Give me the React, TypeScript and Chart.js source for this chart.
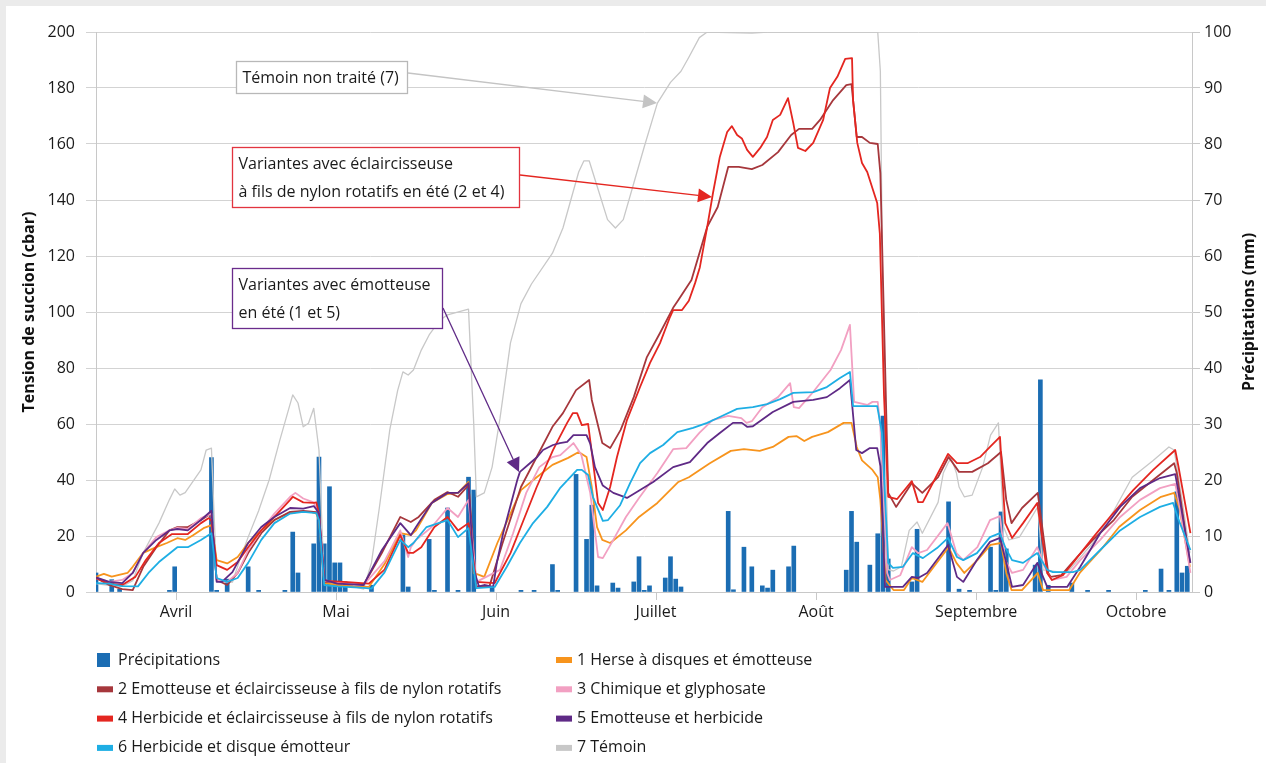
import React, { useEffect, useRef } from 'react';
import { Chart, registerables } from 'chart.js';

Chart.register(...registerables);

const FONT = "'Open Sans', 'DejaVu Sans', sans-serif";

// Month bands of the category axis (each month drawn as an equal band of 30.5 days)
const monthLabels = ['Avril', 'Mai', 'Juin', 'Juillet', 'Août', 'Septembre', 'Octobre'];
const monthBand = 30.5;
const lastDay = 208.9;

const leftTicks = { min: 0, max: 200, step: 20 };
const rightTicks = { min: 0, max: 100, step: 10 };

// [day since 1 April, mm]
const precipitation: [number, number][] = [
  [0, 3.4], [3, 2.2], [4.5, 0.5], [14, 0.3], [15, 4.5], [22, 24], [23, 0.3], [25, 2.3], [29, 4.5], [31, 0.3],
  [36, 0.3], [37.5, 10.7], [38.5, 3.4], [41.5, 8.6], [42.5, 24.1], [43.5, 8.6], [44.5, 18.8], [45.5, 5.2],
  [46.5, 5.2], [47.5, 1.8], [52.5, 1.2], [58.5, 10.2], [59.5, 0.9], [63.5, 9.4], [64.5, 0.3], [67, 15],
  [69, 0.3], [71, 20.5], [72, 18.2], [75.5, 0.9], [81, 0.3], [83.5, 0.3], [87, 4.9], [88, 0.3], [91.5, 21],
  [93.5, 9.4], [94.5, 15.5], [95.5, 1.1], [98.5, 1.6], [99.5, 0.7], [102.5, 1.8], [103.5, 6.3], [104.5, 0.3],
  [105.5, 1.1], [108.5, 2.5], [109.5, 6.3], [110.5, 2.3], [111.5, 0.9], [120.5, 14.4], [121.5, 0.4],
  [123.5, 8], [125, 4.5], [127, 1.1], [128, 0.7], [129, 3.9], [132, 4.5], [133, 8.2], [143, 3.9], [144, 14.4],
  [145, 8.9], [147.5, 4.8], [149, 10.4], [150, 31.4], [151, 5.9], [155.5, 1.8], [156.5, 11.2], [162.5, 16.1],
  [164.5, 0.5], [166.5, 0.3], [170.5, 8], [171.5, 0.3], [172.5, 14.3], [173.5, 7.7], [179, 4.8], [180, 37.9],
  [181.5, 1.2], [186, 1.6], [189, 0.3], [193, 0.3], [200, 0.3], [203, 4.1], [204.5, 0.3], [206, 17.9],
  [207, 3.4], [208, 4.6],
];

// [day since 1 April, cbar]
const serie1: [number, number][] = [
  [0, 5.5], [1.5, 6.5], [3, 5.5], [6, 6.8], [7, 9], [9, 14], [11.5, 16], [13.5, 17.5], [15.5, 19.2], [17, 18.6],
  [18.5, 20.3], [20.5, 22.8], [22, 23.9], [23, 11.4], [25, 10.2], [27, 12.5], [29, 17.5], [31.5, 22], [34, 25.7],
  [36.5, 28], [38.5, 28.6], [41, 28.6], [42, 28], [42.5, 25.7], [43.5, 3.2], [46, 2.5], [49, 2], [52, 1.8],
  [55, 10], [58, 21], [60, 20.3], [61, 22], [64, 31.8], [67, 35], [69, 35.4], [71, 39.3], [72, 6.8], [74, 5.4],
  [76.5, 17.5], [79, 28], [81, 36.4], [84, 41], [87, 45.4], [90, 47.9], [92, 50], [93.5, 48.2], [94.5, 37.5],
  [95.5, 23.2], [96.5, 18.6], [98, 17.5], [101, 22], [103.5, 26.8], [107, 31.8], [111, 39.3], [113, 41],
  [117, 46], [121, 50.4], [123.5, 51], [126.5, 50.4], [129, 51.8], [132, 55.4], [133.5, 55.7], [135, 53.9],
  [136.5, 55.4], [139.5, 57.1], [142.5, 60.4], [144, 60.4], [145, 51.8], [146, 47], [148, 43.6], [149, 41],
  [149.5, 32.9], [150.5, 4.3], [152, 0.7], [154, 0.7], [155.5, 5], [157.5, 3.6], [162.5, 16], [164, 10.4],
  [165.5, 6.8], [168, 11.4], [170.5, 16.8], [172.5, 17.5], [173.5, 6.8], [174.5, 0.7], [176.5, 0.7],
  [179.5, 6.8], [180.5, 0.7], [185.5, 0.7], [187.5, 6.8], [191.5, 15], [195, 23.2], [199, 29.3], [203, 34],
  [205.5, 35.4], [206.5, 30], [208.5, 9],
];

const serie2: [number, number][] = [
  [0, 5], [2.5, 2.5], [5, 1], [7, 0.7], [9, 9], [11.5, 16], [14, 22], [15.5, 23.2], [17.5, 23.2], [20, 25.7],
  [21.5, 27.5], [22, 27], [23, 4.3], [25, 2.5], [27, 6.8], [29, 13.9], [31.5, 21], [34, 25.7], [37, 28.6],
  [39.5, 29], [42, 28.5], [42.5, 26.8], [43.5, 3.6], [46, 3.5], [50, 3], [51, 2.5], [54.5, 14], [58, 26.8],
  [60, 25], [61.5, 26.8], [64.5, 32.9], [67, 35.7], [69, 34], [71, 38.2], [72.5, 2], [75, 2.1], [77.5, 17.5],
  [81, 37.5], [84, 48.2], [87, 59], [89, 63.9], [91.5, 72.1], [94, 75.7], [94.5, 68.6], [96.5, 53.2],
  [98, 51.4], [100, 57.9], [102.5, 69.6], [105, 83.9], [107.5, 92.5], [110, 101.5], [111, 104.3],
  [113.5, 111.4], [116.5, 130.4], [118.5, 137.5], [120.5, 151.8], [122.5, 151.8], [125, 151], [127, 152.5],
  [130, 157.1], [132.5, 163.2], [134, 165.4], [136.5, 165.4], [138, 168.6], [140.5, 175.7], [143, 181],
  [144, 181.4], [145, 162.5], [146, 162.5], [147.5, 160.4], [149, 160], [149.5, 149.6], [151, 35.4],
  [152.5, 30.4], [155.5, 38.9], [157.5, 35.4], [160.5, 41], [162.5, 48.2], [164.5, 42.9], [167, 42.9],
  [170, 46], [172.5, 50], [173.5, 32.9], [174.5, 24.6], [176.5, 30], [179.5, 35.4], [181.5, 6.8], [182, 5.4],
  [184, 6], [187, 12.5], [190, 18.6], [194, 25.7], [197.5, 34], [201.5, 40], [205.5, 46], [206, 42.5],
  [208.5, 10.4],
];

const serie3: [number, number][] = [
  [0, 5], [2.5, 3.6], [5, 4.3], [7, 6.8], [9, 14], [11.5, 19.6], [14, 22], [15.5, 22.9], [17.5, 22.5],
  [20, 26.4], [22, 28], [23, 4.3], [25, 3.6], [27, 6.8], [29, 15], [31.5, 22], [34, 28], [37, 34], [38, 35.4],
  [39.5, 33.4], [41.5, 32], [42.5, 28], [43.5, 4], [46, 3.5], [51, 2.5], [55, 11], [58, 22], [59.5, 12.5],
  [60, 16], [61, 18.6], [64, 23.2], [67, 30], [69, 26.8], [71, 32.9], [72.5, 3.6], [77, 7.9], [79.5, 21],
  [82, 35.4], [84.5, 44.6], [87, 48.2], [88.5, 48.9], [91, 53.2], [92.5, 49], [94.2, 35.4], [95.7, 12.5],
  [96.6, 12.1], [98.6, 18.6], [101, 26.8], [103.5, 33.6], [107, 42.5], [110, 51], [112.5, 51.4], [115, 56.8],
  [117.5, 61.4], [120.5, 62.9], [123, 62.1], [124, 60.4], [125, 61], [127, 66], [130, 69.6], [132.3, 74.6],
  [133, 66], [134, 65.7], [136.5, 71], [140, 79.3], [142, 86.4], [143.7, 95.4], [144.5, 67.9], [147, 66.8],
  [148, 67.9], [149, 67.9], [149.5, 59], [150.8, 6.8], [151.3, 4.3], [153.3, 6], [155.5, 16], [156.7, 13.9],
  [158.4, 15], [162.3, 24.6], [164, 13.9], [165.3, 11.4], [168, 16], [170.4, 25.7], [172.3, 27.1],
  [173.3, 11.4], [174.6, 6.8], [176.7, 7.9], [179.4, 16], [181.3, 6.8], [182.2, 4.3], [185, 5.4],
  [187.6, 11.4], [191.4, 18.6], [195.2, 26.8], [199, 32.9], [202.8, 37.1], [205.7, 38.6], [206.3, 33],
  [208.6, 6.8],
];

const serie4: [number, number][] = [
  [0, 5], [2.5, 3], [5, 2.5], [7.5, 5.4], [9.5, 11.4], [12, 17.5], [14.5, 20.7], [17.5, 20.7], [20, 24.6],
  [21.5, 26.4], [22, 25.5], [23, 9.6], [25, 7.9], [27, 10.7], [29, 16], [31.5, 22], [34, 26.8], [37, 32.9],
  [37.5, 34], [39.5, 32], [41.5, 31.8], [42, 32], [42.5, 28], [43.5, 4.3], [44, 4], [48, 3.5], [52, 3],
  [55, 8], [58, 20.3], [59.5, 14], [60.5, 14], [62, 16], [64.5, 23.2], [67, 26.8], [69, 22], [71, 24.6],
  [72.5, 3.6], [76, 3.2], [79, 13.9], [81.5, 25.7], [84, 37.5], [87.1, 50.7], [88.4, 55.4], [89.8, 60.4],
  [90.9, 63.9], [91.7, 63.9], [92.6, 59.6], [93.8, 60], [94.7, 47], [95.7, 31.8], [96.6, 29.3], [98, 37.5],
  [99.3, 48.2], [101.2, 61.4], [103.7, 73.2], [105.6, 81.8], [107.5, 88.9], [109.4, 98.2], [110, 100.7],
  [111.7, 100.7], [113, 104], [114.2, 110.4], [115.1, 116], [116.5, 130.4], [117.6, 142.5], [118.9, 155.4],
  [120.3, 164.3], [121.2, 166.4], [122.2, 163.2], [123.1, 162], [124.1, 157.9], [125.2, 155.4],
  [126.6, 158.6], [127.9, 162.5], [129, 168.6], [130.4, 170.4], [131.9, 176.4], [132.9, 167.5],
  [133.8, 158.6], [135.2, 157.5], [136.7, 160.4], [138.6, 168.6], [139.9, 180], [141.3, 184], [142.8, 190.4],
  [144.1, 190.7], [144.3, 175.7], [145.1, 160.4], [146, 153.2], [147, 150], [148.1, 143.6], [148.9, 138.9],
  [149.4, 128], [150.2, 70], [151, 34], [152.7, 33.2], [155.5, 39.6], [156.7, 32.1], [157.6, 32.1],
  [162.4, 49.3], [164.1, 46], [166.1, 46], [168.5, 48.2], [170.4, 51.8], [172.3, 55.4], [173.3, 24.6],
  [174.6, 19.3], [176.7, 24.6], [179.4, 31.8], [181.3, 6.8], [182.2, 4.3], [184.3, 6], [186.2, 10.4],
  [190.1, 19.6], [193.9, 28.2], [197.7, 36.4], [201.5, 43.6], [205.7, 50.7], [206.3, 45], [208.6, 21],
];

const serie5: [number, number][] = [
  [0, 5.2], [2.5, 3.6], [5, 3.2], [7, 6.8], [9, 14], [11.5, 18.6], [14, 22], [15.5, 22.5], [17.5, 22],
  [20, 25.7], [22, 29], [23, 3.6], [24, 3.6], [26, 7.1], [29, 17.5], [31.5, 23.2], [34, 26.8], [37, 30],
  [39.5, 29.8], [41.5, 30.7], [42, 29.5], [42.5, 28], [43.5, 4.3], [46, 3], [51, 2.5], [54.5, 15], [58, 24.6],
  [60, 20.3], [61, 23.2], [64, 31.8], [67, 35.4], [69, 35.4], [71, 38.9], [72, 8], [73, 2], [74, 2.5],
  [75.7, 1.8], [76.4, 10.4], [77.6, 21], [80.3, 40], [80.8, 42.9], [82.7, 46], [84.1, 48.2], [85.2, 50.7],
  [87.1, 52.5], [88.4, 53.2], [89.8, 53.6], [91, 56], [93.5, 56], [94.2, 53], [95.1, 44.6], [96.6, 38],
  [98.6, 35.4], [101.2, 33.6], [103.7, 36.4], [106.2, 39.3], [110, 44.6], [113.2, 46.4], [116.5, 53.2],
  [118.9, 56.8], [121.4, 60.4], [123.1, 60.4], [124.1, 59], [125.2, 59.2], [129, 64.3], [132.9, 67.9],
  [136.7, 68.6], [139.3, 69.6], [141.8, 72.8], [143.7, 75.7], [144.9, 50.7], [146, 49.6], [147.5, 51.4],
  [148.9, 51.4], [149.5, 45], [150.4, 1.8], [153.8, 1.8], [155.5, 5.4], [156.7, 5], [158.4, 6.8],
  [162.4, 16.8], [164.1, 5.4], [165.3, 3.6], [167.9, 11.4], [170.4, 17.9], [172.3, 19.3], [173.7, 9],
  [174.6, 1.8], [176.7, 2.5], [179.4, 10.4], [181.3, 1.8], [185.1, 1.8], [187.6, 9], [191.4, 21],
  [195.2, 30.4], [199, 37.1], [202.8, 40.7], [205.7, 42.1], [206.3, 36], [208.6, 10.4],
];

const serie6: [number, number][] = [
  [0, 3.2], [2.5, 3], [5, 2.1], [8, 2], [10, 6.8], [12, 10.7], [15.5, 16], [17.5, 16], [20, 18.6], [22, 21],
  [23, 5], [25, 3.6], [27, 5], [29, 10.4], [31.5, 18.6], [34, 24.6], [37, 28], [39.5, 28.6], [42, 28.2],
  [42.5, 25.7], [43.5, 2.5], [46, 2], [51, 1.5], [52.5, 1.2], [55, 7], [58, 18.6], [59.5, 16], [60.5, 17.5],
  [63, 23.2], [67, 25.7], [69, 19.6], [71, 22.8], [72.5, 1.4], [76, 1.8], [78.3, 9], [80.8, 17.5],
  [83.3, 24.6], [86, 30.4], [88.4, 37], [91.7, 43.6], [92.6, 43.6], [93.8, 41.8], [94.7, 34], [96.6, 25.4],
  [97.6, 25.7], [99.9, 31], [101.8, 38.9], [103.7, 46], [105.6, 49.6], [108.1, 52.5], [110.8, 57.1],
  [113.8, 58.6], [116.5, 60.4], [118.9, 62.5], [122.2, 65.4], [125.2, 66], [127.9, 67.1], [130.4, 68.9],
  [132.9, 71.1], [136.7, 71.4], [139.3, 73.2], [141.8, 76.4], [143.7, 78.6], [144.3, 66.4], [148.9, 66.4],
  [149.8, 56.8], [151, 10.4], [151.9, 8.6], [153.8, 9], [155.7, 13.9], [157.6, 12.1], [160.3, 15.7],
  [162.4, 19.3], [164.1, 12.5], [165.3, 11.4], [167.9, 13.9], [170.4, 19.6], [172.3, 21], [173.3, 16],
  [174.6, 11.4], [176.7, 10.4], [179.4, 13.9], [181.3, 7.9], [182.4, 7.1], [186.2, 7.1], [187.6, 7.9],
  [191.4, 15], [195.2, 22], [199, 26.8], [202.8, 30.4], [205.3, 31.8], [206.3, 26], [208.6, 15],
];

const serie7: [number, number][] = [
  [0, 3], [2, 2.5], [5, 2], [7, 4], [9, 14], [12, 24.6], [14, 33], [15, 36.8], [16, 34.6], [17, 35.5],
  [20, 43.6], [21, 50.7], [22, 51.4], [23, 5], [24, 3.5], [26, 3.5], [27.5, 12], [29, 19.6], [31, 29], [33, 40],
  [35, 54], [37.5, 70.4], [38.5, 67.5], [39.5, 59], [40.5, 60.3], [41.5, 65.6], [42.5, 50.7], [43.5, 3.5],
  [46, 2.5], [49, 2], [51, 1], [52.5, 10.4], [54, 30], [56, 58], [57.5, 72], [58.5, 78.6], [59.5, 77.5],
  [60.5, 79.3], [62, 86.4], [63.5, 91.8], [65.5, 97], [67, 99], [71, 101], [72, 60], [72.5, 34], [74, 35.4],
  [75.5, 44.6], [77, 62], [79, 89], [81, 103], [83, 110], [87, 121], [89, 130], [92, 150], [93, 154], [94, 154],
  [95.5, 145], [97.5, 133], [99, 130], [100.5, 133], [102.5, 146], [104.5, 159], [107, 174.6], [109.5, 182],
  [111.5, 186], [113, 191], [115, 198], [116.5, 200], [125, 199.6], [128, 200], [149, 200], [149.5, 186],
  [150, 97], [151, 8], [152, 7.5], [153.5, 9], [155, 22], [156.5, 25], [157.5, 21], [160.5, 32], [161.5, 42.5],
  [162.5, 46.4], [163, 47.9], [164, 42.5], [164.5, 37.5], [165.5, 34], [167, 34.6], [169, 44.6], [170.5, 56],
  [172, 60.4], [173, 23.2], [174, 18.6], [176, 19.6], [178, 25.7], [179.5, 30.4], [180.5, 7.9], [185, 6.8],
  [190, 17.5], [194, 29], [197.5, 41], [201.5, 47], [204.5, 51.8], [205.5, 50.7], [207, 33], [208.5, 14],
];

const precipLabel = 'Précipitations';
const precipColor = '#1b6db3';
const leftTitle = 'Tension de succion (cbar)';
const rightTitle = 'Précipitations (mm)';

const lineSeries = [
  { label: '1 Herse à disques et émotteuse', color: '#f7941d', data: serie1 },
  { label: '2 Emotteuse et éclaircisseuse à fils de nylon rotatifs', color: '#a6373c', data: serie2 },
  { label: '3 Chimique et glyphosate', color: '#f2a0c2', data: serie3 },
  { label: '4 Herbicide et éclaircisseuse à fils de nylon rotatifs', color: '#e42620', data: serie4 },
  { label: '5 Emotteuse et herbicide', color: '#5f2a86', data: serie5 },
  { label: '6 Herbicide et disque émotteur', color: '#1eaee4', data: serie6 },
  { label: '7 Témoin', color: '#c8c8c8', data: serie7 },
];

const callouts = [
  { lines: ['Témoin non traité (7)'], color: '#b8b8b8', arrowColor: '#c4c4c4', box: [236.5, 61.5, 171, 32], from: [408, 73], to: [657, 103] },
  { lines: ['Variantes avec éclaircisseuse', 'à fils de nylon rotatifs en été (2 et 4)'], color: '#e2343f', arrowColor: '#e42620', box: [232.5, 147.5, 287, 60], from: [520, 175], to: [712, 197] },
  { lines: ['Variantes avec émotteuse', 'en été (1 et 5)'], color: '#6a2c8c', arrowColor: '#5f2a86', box: [232.5, 268.5, 210, 60], from: [443, 308], to: [519, 472] },
];

function drawArrow(ctx: CanvasRenderingContext2D, x1: number, y1: number, x2: number, y2: number, color: string) {
  const a = Math.atan2(y2 - y1, x2 - x1);
  const L = 14;
  const W = 7;
  const bx = x2 - L * Math.cos(a);
  const by = y2 - L * Math.sin(a);
  ctx.strokeStyle = color;
  ctx.lineWidth = 1.3;
  ctx.beginPath();
  ctx.moveTo(x1, y1);
  ctx.lineTo(bx, by);
  ctx.stroke();
  ctx.fillStyle = color;
  ctx.beginPath();
  ctx.moveTo(x2, y2);
  ctx.lineTo(bx + W * Math.sin(a), by - W * Math.cos(a));
  ctx.lineTo(bx - W * Math.sin(a), by + W * Math.cos(a));
  ctx.closePath();
  ctx.fill();
}

const overlayPlugin = {
  id: 'overlay',
  afterDatasetsDraw(chart: any) {
    const ctx: CanvasRenderingContext2D = chart.ctx;
    ctx.save();
    ctx.font = `16px ${FONT}`;
    ctx.textBaseline = 'middle';
    ctx.textAlign = 'left';
    callouts.forEach((c) => {
      drawArrow(ctx, c.from[0], c.from[1], c.to[0], c.to[1], c.arrowColor);
      const [bx, by, bw, bh] = c.box;
      ctx.fillStyle = '#ffffff';
      ctx.fillRect(bx, by, bw, bh);
      ctx.strokeStyle = c.color;
      ctx.lineWidth = 1.3;
      ctx.strokeRect(bx, by, bw, bh);
      ctx.fillStyle = '#1a1a1a';
      const n = c.lines.length;
      c.lines.forEach((t, i) => {
        const cy = by + bh / 2 + (i - (n - 1) / 2) * 28;
        ctx.fillText(t, bx + 6, cy + 1);
      });
    });
    ctx.restore();
  },
  afterDraw(chart: any) {
    const ctx: CanvasRenderingContext2D = chart.ctx;
    const xs = chart.scales.x;
    const area = chart.chartArea;
    ctx.save();
    ctx.font = `16px ${FONT}`;
    ctx.fillStyle = '#1a1a1a';
    ctx.textAlign = 'center';
    ctx.textBaseline = 'middle';
    monthLabels.forEach((m, i) => {
      ctx.fillText(m, xs.getPixelForValue(monthBand * (i + 0.5)), 612);
    });
    // right axis title, reading bottom to top
    ctx.save();
    ctx.font = `bold 16px ${FONT}`;
    ctx.fillStyle = '#111111';
    ctx.translate(1249, (area.top + area.bottom) / 2);
    ctx.rotate(-Math.PI / 2);
    ctx.fillText(rightTitle, 0, 0);
    ctx.restore();
    // legend
    const items = [{ label: precipLabel, color: precipColor, box: true }, ...lineSeries.map((s) => ({ label: s.label, color: s.color, box: false }))];
    ctx.textAlign = 'left';
    items.forEach((it, i) => {
      const col = i % 2;
      const row = Math.floor(i / 2);
      const x0 = col === 0 ? 97 : 556;
      const y = 660 + row * 29.3;
      ctx.fillStyle = it.color;
      if (it.box) ctx.fillRect(x0, y - 7, 13, 14);
      else ctx.fillRect(x0, y - 3, 16, 6);
      ctx.fillStyle = '#1a1a1a';
      ctx.fillText(it.label, x0 + 21, y);
    });
    ctx.restore();
  },
};

export default function App() {
  const ref = useRef<HTMLCanvasElement | null>(null);

  useEffect(() => {
    if (!ref.current) return;
    const tickFont = { family: FONT, size: 16 };
    const titleFont = { family: FONT, size: 16, weight: 'bold' as const };
    const datasets: any[] = [
      {
        type: 'bar',
        label: precipLabel,
        data: precipitation.map(([d, v]) => ({ x: d, y: v })),
        backgroundColor: precipColor,
        barThickness: 4,
        yAxisID: 'y2',
        order: 100,
      },
      ...lineSeries.map((s, i) => ({
        type: 'line',
        label: s.label,
        data: s.data.map(([d, v]) => ({ x: d, y: v })),
        borderColor: s.color,
        backgroundColor: s.color,
        borderWidth: i === 6 ? 1.3 : 1.8,
        pointRadius: 0,
        tension: 0,
        borderJoinStyle: 'round',
        fill: false,
        yAxisID: 'y',
        order: i === 6 ? 50 : 10 - i,
      })),
    ];
    const chart = new Chart(ref.current, {
      type: 'line',
      data: { datasets },
      plugins: [overlayPlugin],
      options: {
        animation: false,
        responsive: false,
        devicePixelRatio: 1,
        layout: { padding: { top: 32, left: 0, right: 0, bottom: 0 } },
        plugins: { legend: { display: false }, tooltip: { enabled: false } },
        scales: {
          x: {
            type: 'linear',
            min: 0,
            max: lastDay,
            offset: false,
            afterBuildTicks: (s: any) => {
              s.ticks = monthLabels.map((_, i) => ({ value: i * monthBand }));
            },
            ticks: { display: false },
            grid: { drawOnChartArea: false, drawTicks: true, tickLength: 8, color: '#c8c8c8' },
            border: { color: '#c8c8c8' },
            afterFit: (s: any) => {
              s.height = 171;
            },
          },
          y: {
            type: 'linear',
            position: 'left',
            min: leftTicks.min,
            max: leftTicks.max,
            ticks: { stepSize: leftTicks.step, font: tickFont, color: '#1a1a1a', padding: 11 },
            grid: { color: '#d3d3d3', tickLength: 10 },
            border: { color: '#c8c8c8' },
            title: { display: true, text: leftTitle, font: titleFont, color: '#111111', padding: { top: 20, bottom: 0 } },
            afterFit: (s: any) => {
              s.width = 96;
            },
          },
          y2: {
            type: 'linear',
            position: 'right',
            min: rightTicks.min,
            max: rightTicks.max,
            ticks: { stepSize: rightTicks.step, font: tickFont, color: '#1a1a1a', padding: 4 },
            grid: { drawOnChartArea: false, tickLength: 8, color: '#c8c8c8' },
            border: { color: '#c8c8c8' },
            title: { display: false },
            afterFit: (s: any) => {
              s.width = 74;
            },
          },
        },
      } as any,
    });
    return () => chart.destroy();
  }, []);

  return (
    <div style={{ position: 'absolute', left: 0, top: 0, width: 1266, height: 763, background: '#ebebeb', overflow: 'hidden' }}>
      <div style={{ position: 'absolute', left: 6, top: 6, width: 1260, height: 757, background: '#ffffff' }} />
      <canvas ref={ref} width={1266} height={763} style={{ position: 'absolute', left: 0, top: 0, width: 1266, height: 763, display: 'block' }} />
    </div>
  );
}
